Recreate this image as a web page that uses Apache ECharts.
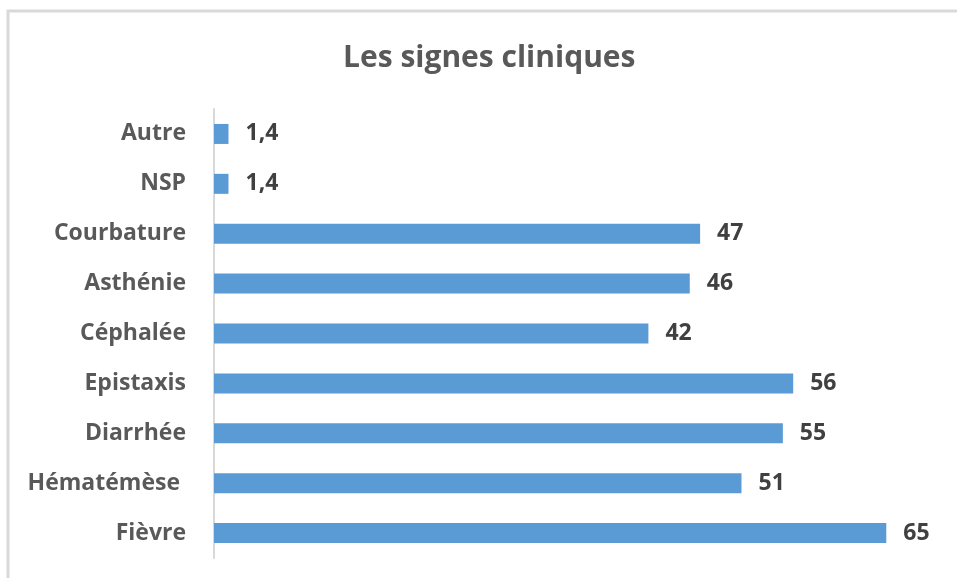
<!DOCTYPE html>
<html>
<head>
<meta charset="utf-8">
<style>
  html, body { margin: 0; padding: 0; background: #ffffff; }
  #chart { width: 957px; height: 578px; }
</style>
<script src="https://cdn.jsdelivr.net/npm/echarts@6/dist/echarts.min.js"></script>
</head>
<body>
<div id="chart"></div>
<script>
// Clinical signs, listed bottom to top as they appear on the axis
var categories = ['Fièvre', 'Hématémèse ', 'Diarrhée', 'Epistaxis', 'Céphalée', 'Asthénie', 'Courbature', 'NSP', 'Autre'];
var values = [65, 51, 55, 56, 42, 46, 47, 1.4, 1.4];
var titleText = 'Les signes cliniques';

var chart = echarts.init(document.getElementById('chart'), null, { renderer: 'canvas' });

var fontFam = '"Open Sans", Lato, sans-serif';

chart.setOption({
  backgroundColor: '#ffffff',
  animation: false,
  textStyle: { fontFamily: fontFam },
  graphic: [{
    type: 'rect',
    shape: { x: 8, y: 11, width: 1200, height: 1200 },
    style: { fill: 'none', stroke: '#d9d9d9', lineWidth: 3 },
    silent: true
  }],
  title: {
    text: titleText,
    left: 338,
    top: 38,
    textStyle: { fontFamily: fontFam, fontSize: 30, fontWeight: 'bold', color: '#595959' }
  },
  grid: { left: 214, right: 19, top: 109, bottom: 20, containLabel: false },
  xAxis: {
    type: 'value',
    min: 0,
    max: 70,
    show: false
  },
  yAxis: {
    type: 'category',
    data: categories,
    axisLine: { show: true, lineStyle: { color: '#d9d9d9', width: 2 } },
    axisTick: { show: false },
    axisLabel: {
      margin: 28,
      fontFamily: fontFam,
      fontSize: 23,
      fontWeight: 'bold',
      color: '#595959'
    }
  },
  series: [{
    type: 'bar',
    data: values,
    barWidth: 20,
    itemStyle: { color: '#5b9bd5' },
    label: {
      show: true,
      position: 'right',
      distance: 17,
      fontFamily: fontFam,
      fontSize: 23,
      fontWeight: 'bold',
      color: '#404040',
      formatter: function (p) { return String(p.value).replace('.', ','); }
    }
  }]
});
</script>
</body>
</html>
